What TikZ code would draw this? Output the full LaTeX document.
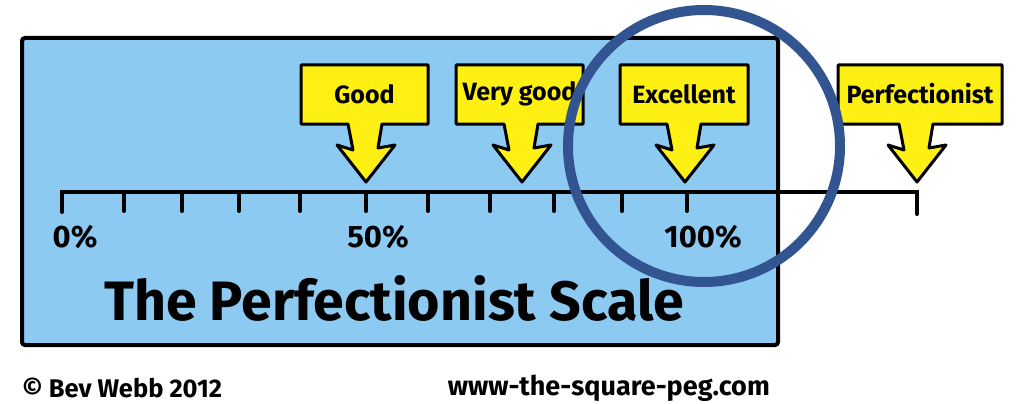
\documentclass[tikz,border=0pt]{standalone}
\usepackage{fontspec}
\setmainfont{Fira Sans}
\definecolor{skyfill}{RGB}{140,202,242}
\definecolor{calloutyellow}{RGB}{255,240,20}
\definecolor{ringblue}{RGB}{50,85,145}
\tikzset{
  panel/.style={draw=black, line width=4pt, fill=skyfill, rounded corners=3pt},
  axisline/.style={draw=black, line width=4pt, line cap=round},
  callout/.style={draw=black, line width=3pt, fill=calloutyellow, line join=round},
  calltext/.style={font=\bfseries\fontsize{25}{25}\selectfont, inner sep=0pt},
  pctext/.style={font=\bfseries\fontsize{31}{31}\selectfont, inner sep=0pt},
  foottext/.style={font=\bfseries\fontsize{25.5}{25.5}\selectfont, inner sep=0pt},
  ring/.style={draw=ringblue, line width=10pt}
}
\newcommand{\callshape}[4]{% left, right, tip x, stem offset
  \path[callout] (#1,65) -- (#2,65) -- (#2,124) -- (#3+16+#4,124) -- (#3+12,148) -- (#3+29,145)
    -- (#3,182) -- (#3-29,145) -- (#3-13,150) -- (#3-18+#4,124) -- (#1,124) -- cycle;}
\begin{document}
\begin{tikzpicture}[x=1pt,y=-1pt]
\useasboundingbox (0,0) rectangle (1020,404);
\fill[white] (0,0) rectangle (1020,404);
% panel
\path[panel] (22,38) rectangle (778,345);
% axis
\draw[axisline] (62,212) -- (62,192) -- (917,192) -- (917,214);
\foreach \tx in {124,182,239,300,366,428,490,554,622,687}
  \draw[axisline] (\tx,192) -- (\tx,211);
% callouts
\callshape{301}{428}{366}{0}
\callshape{456}{583}{522}{0}
\callshape{620}{748}{685}{0}
\callshape{838}{1002}{917}{0}
\node[calltext] (good) at (364.5,94) {Good};
\node[calltext] (vgood) at (519.5,94) {Very good};
\node[calltext] (exc) at (684,94) {Excellent};
\node[calltext] (perf) at (920,94) {Perfectionist};
% percent labels
\node[pctext] (p0) at (75,237) {0\%};
\node[pctext] (p50) at (378,237) {50\%};
\node[pctext] (p100) at (703,237) {100\%};
% title
\node[inner sep=0pt, font=\bfseries\fontsize{55.5}{55.5}\selectfont] (title) at (394,298) {The Perfectionist Scale};
% footer
\node[foottext, anchor=west] (copy) at (22,388) {© Bev Webb 2012};
\node[font=\bfseries\fontsize{27}{27}\selectfont, inner sep=0pt, anchor=east] (web) at (770,388) {www-the-square-peg.com};
% ring
\draw[ring] (704,146) circle (136);
\end{tikzpicture}
\end{document}
